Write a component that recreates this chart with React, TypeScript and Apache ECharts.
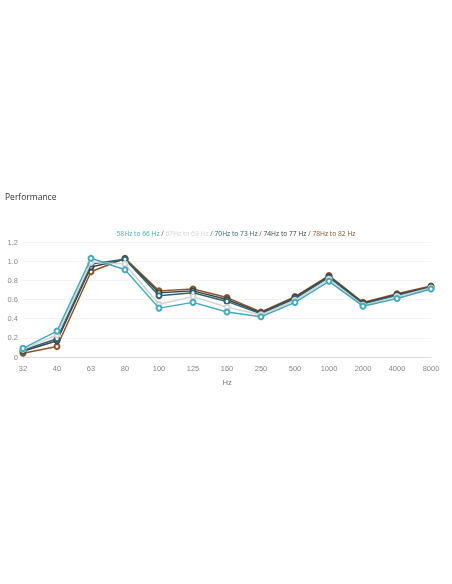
import { useEffect, useRef } from 'react';
import * as echarts from 'echarts';

const frequencies = ['32', '40', '63', '80', '100', '125', '160', '250', '500', '1000', '2000', '4000', '8000'];
const seriesNames = ['58Hz to 66 Hz', '67Hz to 69 Hz', '70Hz to 73 Hz', '74Hz to 77 Hz', '78Hz to 82 Hz'];
const seriesColors = ['#45a9bd', '#d4d4d4', '#2d6470', '#3b4548', '#8e5226'];

const band58to66 = [0.09, 0.27, 1.03, 0.91, 0.51, 0.57, 0.47, 0.42, 0.57, 0.79, 0.53, 0.61, 0.71];
const band67to69 = [0.08, 0.23, 0.99, 0.97, 0.55, 0.63, 0.52, 0.44, 0.59, 0.81, 0.54, 0.63, 0.72];
const band70to73 = [0.07, 0.19, 0.97, 1.02, 0.64, 0.67, 0.58, 0.45, 0.61, 0.83, 0.55, 0.64, 0.72];
const band74to77 = [0.06, 0.17, 0.94, 1.02, 0.67, 0.69, 0.6, 0.46, 0.62, 0.84, 0.56, 0.65, 0.73];
const band78to82 = [0.04, 0.11, 0.89, 1.03, 0.69, 0.71, 0.62, 0.47, 0.63, 0.85, 0.57, 0.66, 0.74];

const allBands = [band58to66, band67to69, band70to73, band74to77, band78to82];

export default function App() {
  const chartRef = useRef<HTMLDivElement>(null);

  useEffect(() => {
    if (!chartRef.current) return;
    const chart = echarts.init(chartRef.current, null, { renderer: 'svg' });

    // legend line built as rich text: coloured names, grey slashes
    const rich: Record<string, any> = {
      sep: { color: '#555', fontSize: 6.7, fontWeight: 'normal', fontFamily: 'Open Sans' }
    };
    const parts: string[] = [];
    seriesNames.forEach((name, i) => {
      rich['s' + i] = { color: seriesColors[i], fontSize: 6.7, fontWeight: 'normal', fontFamily: 'Open Sans' };
      parts.push(`{s${i}|${name}}`);
    });
    const legendText = parts.join('{sep| / }');

    chart.setOption({
      animation: false,
      title: [
        {
          text: 'Performance',
          left: 0,
          top: 187,
          textStyle: { fontSize: 8.5, fontWeight: 'normal', color: '#333', fontFamily: 'Open Sans' }
        },
        {
          text: legendText,
          left: 231,
          textAlign: 'center',
          top: 225,
          textStyle: { fontWeight: 'normal', rich }
        }
      ],
      grid: { left: 23, right: 21, top: 242, bottom: 227, containLabel: false },
      xAxis: {
        type: 'category',
        data: frequencies,
        boundaryGap: false,
        name: 'Hz',
        nameLocation: 'middle',
        nameGap: 20,
        nameTextStyle: { color: '#777', fontSize: 8, fontFamily: 'Open Sans' },
        axisLine: { lineStyle: { color: '#ddd' } },
        axisTick: { show: false },
        axisLabel: { color: '#888', fontSize: 7.5, margin: 7, fontFamily: 'Liberation Sans', interval: 0 },
        splitLine: { show: false }
      },
      yAxis: {
        type: 'value',
        min: 0,
        max: 1.2,
        interval: 0.2,
        axisLine: { show: false },
        axisTick: { show: false },
        axisLabel: {
          color: '#888',
          fontSize: 7.5,
          margin: 5,
          fontFamily: 'Liberation Sans',
          formatter: (v: number) => (v === 0 ? '0' : v.toFixed(1))
        },
        splitLine: { lineStyle: { color: '#f3f3f3' } }
      },
      series: allBands.map((values, i) => ({
        name: seriesNames[i],
        type: 'line',
        data: values,
        symbol: 'emptyCircle',
        symbolSize: 5,
        z: i === 0 ? 10 : 5 - i,
        lineStyle: { width: 1.5, color: seriesColors[i] },
        itemStyle: { color: seriesColors[i], borderWidth: 1.2 }
      }))
    });

    return () => {
      chart.dispose();
    };
  }, []);

  return (
    <div
      ref={chartRef}
      style={{ position: 'fixed', left: 0, top: 0, width: '452px', height: '584px' }}
    ></div>
  );
}
